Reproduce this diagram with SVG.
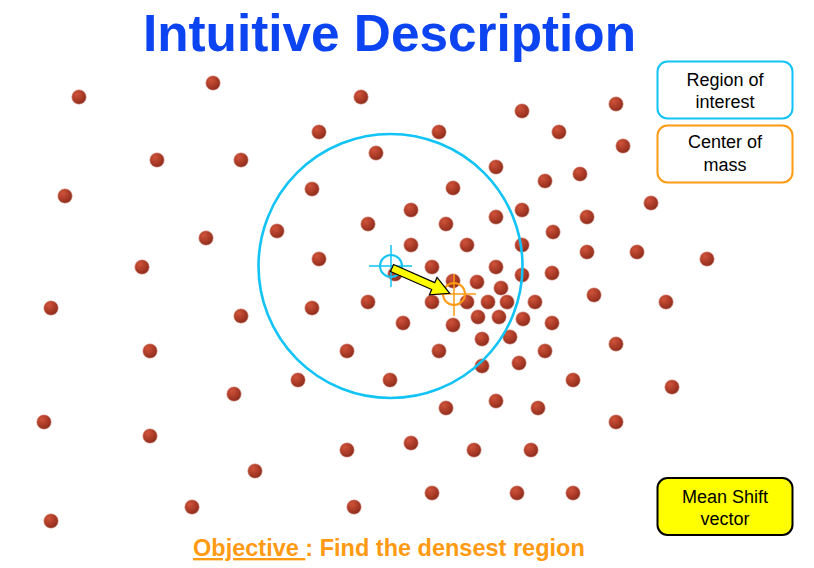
<svg xmlns="http://www.w3.org/2000/svg" width="814" height="568" viewBox="0 0 814 568">
<defs>
<radialGradient id="dotg" cx="35%" cy="30%" r="75%">
<stop offset="0" stop-color="#D0533A"/>
<stop offset="0.6" stop-color="#A83A26"/>
<stop offset="1" stop-color="#8A2B1C"/>
</radialGradient>
<style>
.d{fill:url(#dotg);stroke:#E8B8B0;stroke-width:0.6}
.lbl{font-family:"Liberation Sans",Arial,sans-serif;font-size:18px;fill:#000;text-anchor:middle}
.cy{stroke:#12C3F5;fill:none}
.or{stroke:#FF9A12;fill:none}
</style>
</defs>
<rect width="814" height="568" fill="#fff"/>
<text x="389.5" y="51" font-family="'Liberation Sans',Arial,sans-serif" font-weight="bold" font-size="51.3" fill="#0D44F2" text-anchor="middle">Intuitive Description</text>
<g id="points">
<circle class="d" cx="79" cy="97" r="7.3"/><circle class="d" cx="213" cy="83" r="7.3"/><circle class="d" cx="361" cy="97" r="7.3"/><circle class="d" cx="522" cy="111" r="7.3"/><circle class="d" cx="616" cy="104" r="7.3"/>
<circle class="d" cx="319" cy="132" r="7.3"/><circle class="d" cx="439" cy="132" r="7.3"/><circle class="d" cx="559" cy="132" r="7.3"/><circle class="d" cx="623" cy="146" r="7.3"/><circle class="d" cx="157" cy="160" r="7.3"/>
<circle class="d" cx="241" cy="160" r="7.3"/><circle class="d" cx="376" cy="153" r="7.3"/><circle class="d" cx="496" cy="167" r="7.3"/><circle class="d" cx="545" cy="181" r="7.3"/><circle class="d" cx="580" cy="174" r="7.3"/>
<circle class="d" cx="65" cy="196" r="7.3"/><circle class="d" cx="312" cy="189" r="7.3"/><circle class="d" cx="453" cy="188" r="7.3"/><circle class="d" cx="651" cy="203" r="7.3"/><circle class="d" cx="411" cy="210" r="7.3"/>
<circle class="d" cx="496" cy="217" r="7.3"/><circle class="d" cx="522" cy="210" r="7.3"/><circle class="d" cx="587" cy="217" r="7.3"/><circle class="d" cx="368" cy="224" r="7.3"/><circle class="d" cx="446" cy="224" r="7.3"/>
<circle class="d" cx="553" cy="232" r="7.3"/><circle class="d" cx="277" cy="231" r="7.3"/><circle class="d" cx="206" cy="238" r="7.3"/><circle class="d" cx="411" cy="245" r="7.3"/><circle class="d" cx="467" cy="245" r="7.3"/>
<circle class="d" cx="522" cy="245" r="7.3"/><circle class="d" cx="587" cy="252" r="7.3"/><circle class="d" cx="637" cy="252" r="7.3"/><circle class="d" cx="707" cy="259" r="7.3"/><circle class="d" cx="142" cy="267" r="7.3"/>
<circle class="d" cx="319" cy="259" r="7.3"/><circle class="d" cx="432" cy="267" r="7.3"/><circle class="d" cx="496" cy="267" r="7.3"/><circle class="d" cx="552" cy="273" r="7.3"/><circle class="d" cx="522" cy="275" r="7.3"/>
<circle class="d" cx="395" cy="274" r="7.3"/><circle class="d" cx="453" cy="281" r="7.3"/><circle class="d" cx="477" cy="282" r="7.3"/><circle class="d" cx="501" cy="288" r="7.3"/><circle class="d" cx="594" cy="295" r="7.3"/>
<circle class="d" cx="432" cy="302" r="7.3"/><circle class="d" cx="467" cy="302" r="7.3"/><circle class="d" cx="488" cy="302" r="7.3"/><circle class="d" cx="507" cy="302" r="7.3"/><circle class="d" cx="535" cy="302" r="7.3"/>
<circle class="d" cx="666" cy="302" r="7.3"/><circle class="d" cx="51" cy="308" r="7.3"/><circle class="d" cx="241" cy="316" r="7.3"/><circle class="d" cx="312" cy="308" r="7.3"/><circle class="d" cx="368" cy="302" r="7.3"/>
<circle class="d" cx="403" cy="323" r="7.3"/><circle class="d" cx="453" cy="325" r="7.3"/><circle class="d" cx="478" cy="317" r="7.3"/><circle class="d" cx="499" cy="317" r="7.3"/><circle class="d" cx="523" cy="319" r="7.3"/>
<circle class="d" cx="552" cy="323" r="7.3"/><circle class="d" cx="482" cy="339" r="7.3"/><circle class="d" cx="510" cy="337" r="7.3"/><circle class="d" cx="150" cy="351" r="7.3"/><circle class="d" cx="347" cy="351" r="7.3"/>
<circle class="d" cx="439" cy="351" r="7.3"/><circle class="d" cx="545" cy="351" r="7.3"/><circle class="d" cx="616" cy="344" r="7.3"/><circle class="d" cx="482" cy="366" r="7.3"/><circle class="d" cx="519" cy="363" r="7.3"/>
<circle class="d" cx="298" cy="380" r="7.3"/><circle class="d" cx="390" cy="380" r="7.3"/><circle class="d" cx="573" cy="380" r="7.3"/><circle class="d" cx="672" cy="387" r="7.3"/><circle class="d" cx="234" cy="394" r="7.3"/>
<circle class="d" cx="446" cy="408" r="7.3"/><circle class="d" cx="496" cy="401" r="7.3"/><circle class="d" cx="538" cy="408" r="7.3"/><circle class="d" cx="44" cy="422" r="7.3"/><circle class="d" cx="150" cy="436" r="7.3"/>
<circle class="d" cx="616" cy="422" r="7.3"/><circle class="d" cx="347" cy="450" r="7.3"/><circle class="d" cx="411" cy="443" r="7.3"/><circle class="d" cx="474" cy="450" r="7.3"/><circle class="d" cx="531" cy="450" r="7.3"/>
<circle class="d" cx="255" cy="471" r="7.3"/><circle class="d" cx="192" cy="507" r="7.3"/><circle class="d" cx="354" cy="507" r="7.3"/><circle class="d" cx="432" cy="493" r="7.3"/><circle class="d" cx="517" cy="493" r="7.3"/>
<circle class="d" cx="573" cy="493" r="7.3"/><circle class="d" cx="51" cy="521" r="7.3"/>
</g>
<g id="region">
<circle class="cy" cx="390.5" cy="266" r="132" stroke-width="2.6"/>
</g>
<g id="start-center">
<circle class="cy" cx="391" cy="266" r="11" stroke-width="2"/>
<path class="cy" d="M369 266H412M391 245V287" stroke-width="1.5"/>
</g>
<g id="mass-center">
<circle class="or" cx="454" cy="294" r="11" stroke-width="2"/>
<path class="or" d="M431 294H476M454 274V316" stroke-width="1.5"/>
</g>
<g id="connectors">
<g id="shift-arrow" transform="translate(392,268) rotate(23.7)">
<path d="M0 -3.8H45V-9.5L63 0L45 9.5V3.8H0Z" fill="#FFFF00" stroke="#000" stroke-width="1.2" stroke-linejoin="miter"/>
</g>
</g>
<g id="legend-roi">
<rect x="657.5" y="61.5" width="135" height="57" rx="10" fill="#fff" stroke="#12C3F5" stroke-width="2"/>
<text class="lbl" x="725" y="86">Region of</text>
<text class="lbl" x="725" y="108">interest</text>
</g>
<g id="legend-com">
<rect x="657.5" y="125.5" width="135" height="57" rx="10" fill="#fff" stroke="#FF9A12" stroke-width="2"/>
<text class="lbl" x="725" y="148">Center of</text>
<text class="lbl" x="725" y="171">mass</text>
</g>
<g id="legend-msv">
<rect x="657.5" y="478" width="135" height="57" rx="10" fill="#FFFF00" stroke="#000" stroke-width="2"/>
<text class="lbl" x="725" y="503">Mean Shift</text>
<text class="lbl" x="725" y="525">vector</text>
</g>
<text x="193" y="556" font-family="'Liberation Sans',Arial,sans-serif" font-weight="bold" font-size="23.5" fill="#FF9A12"><tspan text-decoration="underline">Objective </tspan>: Find the densest region</text>
</svg>
